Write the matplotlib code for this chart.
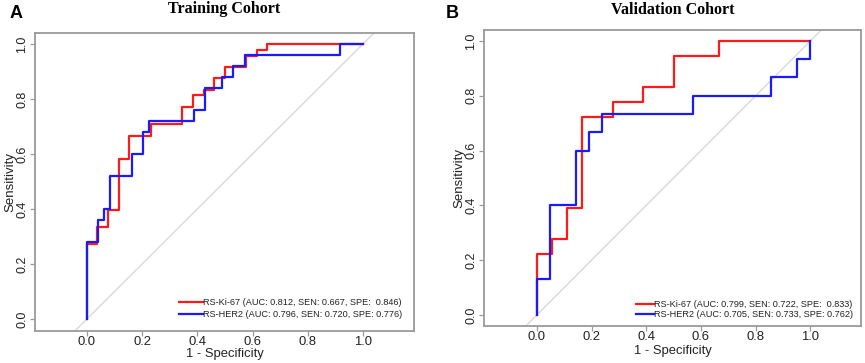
import matplotlib
matplotlib.use("Agg")
import matplotlib.pyplot as plt

# ---------------- data (ROC operating points) ----------------
train_ki67_fpr = [0, 0, 0.038, 0.077, 0.115, 0.154, 0.231, 0.346, 0.385, 0.423, 0.462, 0.500, 0.577, 0.615, 0.654, 1.0]
train_ki67_tpr = [0, 0.271, 0.333, 0.396, 0.583, 0.667, 0.708, 0.771, 0.813, 0.833, 0.875, 0.917, 0.958, 0.979, 1.0, 1.0]
train_her2_fpr = [0, 0, 0.041, 0.061, 0.082, 0.163, 0.204, 0.224, 0.388, 0.429, 0.490, 0.531, 0.571, 0.918, 1.0]
train_her2_tpr = [0, 0.28, 0.36, 0.40, 0.52, 0.60, 0.68, 0.72, 0.76, 0.84, 0.88, 0.92, 0.96, 1.0, 1.0]

valid_ki67_fpr = [0, 0, 0.056, 0.111, 0.167, 0.278, 0.389, 0.500, 0.667, 1.0]
valid_ki67_tpr = [0, 0.222, 0.278, 0.389, 0.722, 0.778, 0.833, 0.944, 1.0, 1.0]
valid_her2_fpr = [0, 0, 0.048, 0.143, 0.190, 0.238, 0.571, 0.857, 0.952, 1.0]
valid_her2_tpr = [0, 0.133, 0.400, 0.600, 0.667, 0.733, 0.800, 0.867, 0.933, 1.0]

train_labels = ["RS-Ki-67 (AUC: 0.812, SEN: 0.667, SPE:  0.846)",
                "RS-HER2 (AUC: 0.796, SEN: 0.720, SPE: 0.776)"]
valid_labels = ["RS-Ki-67 (AUC: 0.799, SEN: 0.722, SPE:  0.833)",
                "RS-HER2 (AUC: 0.705, SEN: 0.733, SPE: 0.762)"]
titles = ["Training Cohort", "Validation Cohort"]
panel_letters = ["A", "B"]
ticks = [0.0, 0.2, 0.4, 0.6, 0.8, 1.0]
tick_labels = ["0.0", "0.2", "0.4", "0.6", "0.8", "1.0"]

# ---------------- figure ----------------
W, H = 865, 363
fig = plt.figure(figsize=(W / 100, H / 100), dpi=100)
SANS = ["Liberation Sans", "DejaVu Sans"]
SERIF = ["Liberation Serif", "DejaVu Serif"]

RED = "#ff1a1a"
BLUE = "#1a1aff"
BOX = "#9a9a9a"

panels = [
    dict(rect=(35, 33, 414, 331), xlim=(-0.188, 1.185), ylim=(-0.0436, 1.04),
         ki=(train_ki67_fpr, train_ki67_tpr), her=(train_her2_fpr, train_her2_tpr),
         labels=train_labels, leg_anchor=(0.968, 0.040), spacing=0.3, hlen=2.6,
         letter_xy=(10, 13), title_base=13.0, xlabel_y=353.5),
    dict(rect=(484, 30, 861, 326), xlim=(-0.193, 1.185), ylim=(-0.040, 1.04),
         ki=(valid_ki67_fpr, valid_ki67_tpr), her=(valid_her2_fpr, valid_her2_tpr),
         labels=valid_labels, leg_anchor=(0.979, 0.024), spacing=0.06, hlen=2.0,
         letter_xy=(446, 13), title_base=14.0, xlabel_y=351),
]

for i, p in enumerate(panels):
    l, t, r, b = p["rect"]
    ax = fig.add_axes([l / W, (H - b) / H, (r - l) / W, (b - t) / H])
    ax.set_xlim(*p["xlim"])
    ax.set_ylim(*p["ylim"])
    ax.axline((0, 0), (1, 1), color="#d9d9d9", lw=1.0, zorder=1)
    ax.plot(p["ki"][0], p["ki"][1], drawstyle="steps-post", color=RED, lw=1.6,
            label=p["labels"][0], zorder=3)
    ax.plot(p["her"][0], p["her"][1], drawstyle="steps-post", color=BLUE, lw=1.6,
            label=p["labels"][1], zorder=4)

    for s in ax.spines.values():
        s.set_color(BOX)
        s.set_linewidth(1.3)

    ax.set_xticks(ticks)
    ax.set_xticklabels(tick_labels, fontfamily=SANS, fontsize=9.4)
    ax.set_yticks(ticks)
    ax.set_yticklabels(tick_labels, fontfamily=SANS, fontsize=9, rotation=90, va="center")
    ax.tick_params(axis="both", length=3.5, width=0.9, color=BOX, colors="#222222", pad=1.5)
    ax.tick_params(axis="x", pad=0.3)

    ax.set_xlabel("1 - Specificity", fontfamily=SANS, fontsize=9.4, color="#222222", va="center")
    ax.xaxis.set_label_coords(0.5, (b - p["xlabel_y"]) / (b - t))
    ax.set_ylabel("Sensitivity", fontfamily=SANS, fontsize=9.5, labelpad=-0.5, color="#222222")

    # title centred over the plot box, baseline at the reference's pixel height
    fig.text((l + r) / 2 / W, 1 - p["title_base"] / H, titles[i], fontfamily=SERIF,
             fontweight="bold", fontsize=11.5, ha="center", va="baseline")

    leg = ax.legend(loc="lower right", bbox_to_anchor=p["leg_anchor"], frameon=False,
                    prop={"family": SANS, "size": 6.6}, handlelength=p["hlen"],
                    handletextpad=0.0, labelspacing=p["spacing"], borderaxespad=0.0,
                    borderpad=0.0)
    for txt in leg.get_texts():
        txt.set_color("#222222")

    fig.text(p["letter_xy"][0] / W, 1 - p["letter_xy"][1] / H, panel_letters[i],
             fontfamily=SANS, fontweight="bold", fontsize=13, ha="left", va="center")

fig.savefig("out.png", dpi=100)
